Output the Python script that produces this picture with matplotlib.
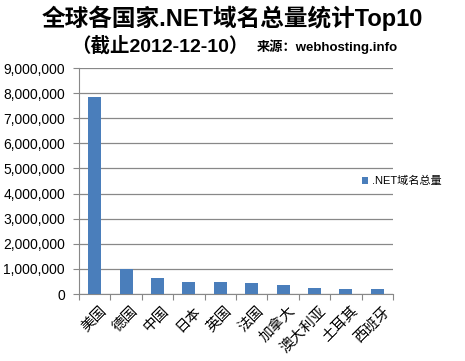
import numpy as np
import matplotlib.pyplot as plt
from matplotlib.ticker import FuncFormatter

plt.rcParams['font.family'] = ['Liberation Sans', 'Noto Sans CJK SC', 'DejaVu Sans']

countries = ['美国', '德国', '中国', '日本', '英国', '法国', '加拿大', '澳大利亚', '土耳其', '西班牙']
net_totals = [7850000, 990000, 640000, 480000, 480000, 440000, 360000, 240000, 200000, 200000]
series_name = '.NET域名总量'

fig = plt.figure(figsize=(4.65, 3.61), dpi=100)
ax = fig.add_axes([79 / 465, 1 - 294 / 361, (393 - 79) / 465, (294 - 68) / 361])

x = np.arange(len(countries))
ax.bar(x, net_totals, width=0.42, color='#4a7ebb', label=series_name, zorder=3)

ax.set_xlim(-0.5, len(countries) - 0.5)
ax.set_ylim(0, 9000000)
ax.set_yticks(np.arange(0, 9000001, 1000000))
ax.yaxis.set_major_formatter(FuncFormatter(lambda v, p: '{:,.0f}'.format(v)))
ax.grid(axis='y', color='#888888', linewidth=0.9, zorder=0)

ax.set_xticks(np.arange(-0.5, len(countries), 1.0))
ax.set_xticklabels([])
ax.set_xticks(x + 0.15, minor=True)
ax.set_xticklabels(countries, minor=True, rotation=45, ha='right', va='top',
                   rotation_mode='anchor', fontsize=10.5, family=['Noto Sans CJK SC'])
ax.tick_params(axis='x', which='major', length=4, color='#888888', direction='out')
ax.tick_params(axis='x', which='minor', length=0, pad=7)
ax.tick_params(axis='y', length=4, color='#888888', labelsize=10, pad=6)

for s in ['top', 'right']:
    ax.spines[s].set_visible(False)
for s in ['left', 'bottom']:
    ax.spines[s].set_color('#888888')

ax.legend(loc='center left', bbox_to_anchor=(0.9, 0.5), frameon=False,
          fontsize=8, handlelength=0.6, handleheight=0.6, handletextpad=0.3,
          borderpad=0, borderaxespad=0)

fig.text(0.5, 0.95, '全球各国家.NET域名总量统计Top10', ha='center', va='center',
         fontsize=17, fontweight='bold', family=['Liberation Sans', 'Noto Sans CJK SC'])
fig.text(0.535, 0.873, '（截止2012-12-10）', ha='right', va='center',
         fontsize=14, fontweight='bold', family=['Liberation Sans', 'Noto Sans CJK SC'])
fig.text(0.553, 0.87, '来源：webhosting.info', ha='left', va='center',
         fontsize=9.5, fontweight='bold', family=['Liberation Sans', 'Noto Sans CJK SC'])

fig.savefig('out.png', dpi=100)
